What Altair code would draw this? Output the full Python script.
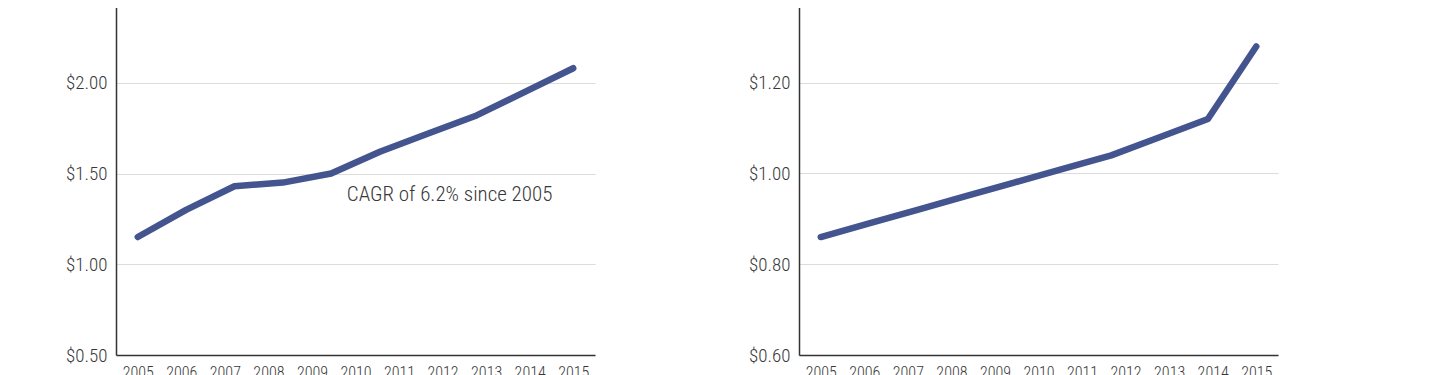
import altair as alt
import pandas as pd

# ---- data ----
years = list(range(2005, 2016))
line_x = [2005.0, 2006.11, 2007.22, 2008.33, 2009.44, 2010.56, 2011.67, 2012.78, 2013.89, 2015.0]
left_values = [1.15, 1.30, 1.43, 1.45, 1.50, 1.62, 1.72, 1.82, 1.95, 2.08]
right_values = [0.86, 0.89, 0.92, 0.95, 0.98, 1.01, 1.04, 1.08, 1.12, 1.28]
left_ticks = [0.5, 1.0, 1.5, 2.0, 2.5]
right_ticks = [0.6, 0.8, 1.0, 1.2, 1.4]
note_text = ["CAGR of 6.2% since 2005"]
note_x = [2009.8]
note_y = [1.38]

FONT = "Roboto Condensed"
LINE_COLOR = "#43548f"
TEXT_COLOR = "#383838"


def panel(values, ticks, note=None):
    df = pd.DataFrame({"year": line_x, "value": values})
    x = alt.X(
        "year:Q",
        scale=alt.Scale(domain=[2004.5, 2015.5], nice=False, zero=False),
        axis=alt.Axis(values=years, format="d", title=None, grid=False, ticks=False,
                      labelPadding=9, labelFontSize=16, labelFlush=False,
                      domainColor="#333333", domainWidth=1.5),
    )
    y = alt.Y(
        "value:Q",
        scale=alt.Scale(domain=[ticks[0], ticks[-1]], nice=False, zero=False),
        axis=alt.Axis(values=ticks, format="$.2f", title=None, grid=True,
                      gridColor="#dcdcdc", gridWidth=1.2, ticks=False,
                      labelPadding=9, labelFontSize=19, labelFlush=False,
                      domainColor="#333333", domainWidth=1.5),
    )
    line = alt.Chart(df).mark_line(
        color=LINE_COLOR, strokeWidth=6.5, strokeCap="round", strokeJoin="round"
    ).encode(x=x, y=y)
    layers = [line]
    if note is not None:
        ndf = pd.DataFrame({"year": note_x, "value": note_y, "label": note})
        txt = alt.Chart(ndf).mark_text(
            align="left", baseline="middle", font=FONT, fontSize=21,
            fontWeight=300, color=TEXT_COLOR
        ).encode(x="year:Q", y="value:Q", text="label:N")
        layers.append(txt)
    return alt.layer(*layers).properties(width=479, height=363)


left = panel(left_values, left_ticks, note_text)
right = panel(right_values, right_ticks)

chart = alt.hconcat(left, right, spacing=151).properties(
    padding={"top": -26, "left": 56, "right": 0, "bottom": 0}
).configure_axis(
    labelFont=FONT, labelColor=TEXT_COLOR, labelFontWeight=300
).configure_view(stroke="transparent")

chart.save("out.html", embed_options={"renderer": "svg", "actions": False})
